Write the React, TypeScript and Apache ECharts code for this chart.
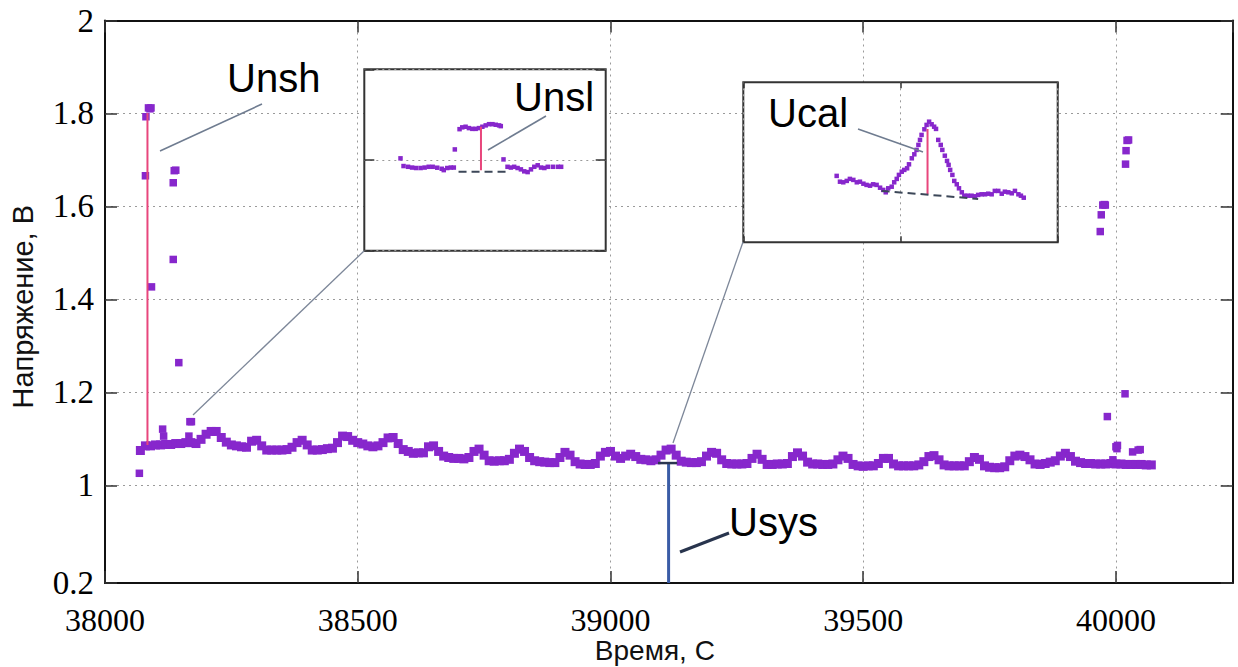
import React, { useEffect, useRef } from 'react';
import * as echarts from 'echarts';

// ---------- main axes ----------
const X_MIN = 38000;
const X_MAX = 40231;
const X_STEP = 500;
const Y_MIN = 0.79;
const Y_MAX = 2;
const Y_TICKS = [0.79, 1, 1.2, 1.4, 1.6, 1.8, 2];
const Y_TICK_LABELS = ['0.2', '1', '1.2', '1.4', '1.6', '1.8', '2'];

// ---------- main series: baseline sampled every 10 s ----------
const T_START = 38070;
const T_STEP = 10;
const baseVolts = [
  1.075, 1.085, 1.085, 1.087, 1.087, 1.088, 1.088, 1.090, 1.090, 1.092,
  1.092, 1.090, 1.099, 1.110, 1.116, 1.116, 1.103, 1.093, 1.087, 1.085,
  1.083, 1.082, 1.095, 1.097, 1.085, 1.076, 1.076, 1.076, 1.076, 1.077,
  1.082, 1.092, 1.097, 1.087, 1.076, 1.076, 1.077, 1.079, 1.080, 1.092,
  1.106, 1.105, 1.097, 1.092, 1.089, 1.085, 1.083, 1.085, 1.092, 1.102,
  1.103, 1.090, 1.077, 1.073, 1.069, 1.070, 1.070, 1.083, 1.085, 1.073,
  1.063, 1.060, 1.058, 1.058, 1.057, 1.060, 1.073, 1.078, 1.065, 1.053,
  1.052, 1.053, 1.053, 1.056, 1.069, 1.078, 1.073, 1.060, 1.053, 1.051,
  1.050, 1.049, 1.049, 1.060, 1.071, 1.065, 1.051, 1.046, 1.045, 1.045,
  1.047, 1.063, 1.071, 1.073, 1.063, 1.058, 1.063, 1.067, 1.062, 1.056,
  1.055, 1.053, 1.055, 1.065, 1.076, 1.078, 1.065, 1.052, 1.050, 1.049,
  1.049, 1.051, 1.063, 1.071, 1.069, 1.055, 1.047, 1.046, 1.046, 1.046,
  1.047, 1.058, 1.067, 1.056, 1.045, 1.045, 1.046, 1.046, 1.047, 1.062,
  1.070, 1.063, 1.050, 1.046, 1.046, 1.045, 1.045, 1.046, 1.055, 1.063,
  1.058, 1.045, 1.042, 1.041, 1.042, 1.042, 1.047, 1.058, 1.058, 1.046,
  1.042, 1.042, 1.042, 1.042, 1.044, 1.051, 1.062, 1.064, 1.055, 1.044,
  1.042, 1.042, 1.042, 1.042, 1.051, 1.060, 1.056, 1.042, 1.039, 1.038,
  1.038, 1.040, 1.053, 1.063, 1.065, 1.062, 1.055, 1.046, 1.045, 1.047,
  1.050, 1.053, 1.063, 1.069, 1.062, 1.052, 1.049, 1.047, 1.047, 1.046,
  1.046, 1.046, 1.047, 1.046, 1.046, 1.045, 1.045, 1.045, 1.045, 1.044,
  1.044,
];

// ---------- outliers (time, volts) ----------
const outlierTimes = [
  38068, 38081, 38086, 38089, 38091, 38080, 38092, 38114, 38116, 38135,
  38137, 38140, 38135, 38146, 38166, 38168, 38171,
  39969, 39971, 39974, 39977, 39979, 39983, 39994, 40000, 40003, 40002,
  40018, 40019, 40020, 40022, 40025, 40033, 40044, 40048,
];
const outlierVolts = [
  1.026, 1.793, 1.812, 1.810, 1.812, 1.666, 1.427, 1.121, 1.106, 1.651,
  1.677, 1.678, 1.486, 1.264, 1.106, 1.137, 1.137,
  1.546, 1.582, 1.603, 1.604, 1.603, 1.148, 1.055, 1.083, 1.086, 1.079,
  1.197, 1.691, 1.720, 1.742, 1.743, 1.072, 1.076, 1.077,
];

// ---------- annotation lines in main coordinates ----------
const unshLine = [[38084, 1.087], [38084, 1.801]];
const usysLine = [[39115, 1.048], [39115, 0.79]];
const usysCap = [[39094, 1.048], [39132, 1.048]];

// ---------- inset 1 (Unsl) ----------
const in1Times = [
  36, 39, 43.5, 47.5, 51.5, 56, 60, 64, 68, 72.5, 77, 79, 82.5, 86, 89,
  90,
  94.7, 97.4, 100.7, 104, 107.4, 110.7, 114, 117.4, 120.7, 124, 127.4, 130.7, 134, 135.7,
  138.4,
  142.4, 145.7, 149, 152.4, 155.7, 159, 162.4, 165.7, 169, 172.4, 175.7, 179, 182.4, 187.4, 192.4, 195.7,
];
const in1Volts = [
  1.1411, 1.136, 1.1355, 1.135, 1.1347, 1.1347, 1.135, 1.1355, 1.1355, 1.1349, 1.1342, 1.1333, 1.1347, 1.135, 1.135,
  1.147,
  1.1604, 1.1616, 1.162, 1.1611, 1.1606, 1.1606, 1.1611, 1.162, 1.1629, 1.1637, 1.1637, 1.1633, 1.1629, 1.1624,
  1.1404,
  1.1355, 1.135, 1.1355, 1.1347, 1.1338, 1.1325, 1.132, 1.1338, 1.1355, 1.1365, 1.135, 1.1347, 1.1355, 1.1355, 1.1355, 1.1355,
];
const in1Pink = [[116, 1.1333], [116, 1.162]];
const in1Dash = [[93.7, 1.1322], [144, 1.1322]];

// ---------- inset 2 (Ucal) ----------
const in2Times = [
  29.7, 30.75, 31.8, 32.9, 33.9, 35.0, 36.1, 37.1, 38.2, 39.2, 40.3, 41.3, 42.4, 43.5, 44.5,
  45.3, 46.1, 47.2, 48.0, 48.8, 49.5, 50.4, 51.2, 52.1, 52.7, 53.6, 54.4, 55.1, 55.7, 56.2,
  56.7, 57.6, 58.3, 59.1, 59.9, 60.7, 61.3, 62.0, 62.8, 63.3, 64.1, 64.8, 65.3, 65.8, 66.5,
  67.1, 67.9, 68.6, 69.5, 70.3, 71.4, 72.6, 73.7, 74.7, 75.8, 76.9, 77.9, 79.0, 80.0, 81.1,
  82.2, 83.2, 84.3, 85.4, 86.4, 87.5, 88.3, 89.2,
];
const in2Volts = [
  1.0732, 1.0703, 1.07, 1.0707, 1.0717, 1.0712, 1.07, 1.0703, 1.0693, 1.0687, 1.0683, 1.069, 1.0687, 1.0673, 1.0662,
  1.065, 1.067, 1.0678, 1.07, 1.0717, 1.0737, 1.0753, 1.0762, 1.077, 1.079, 1.082, 1.084, 1.0862, 1.0887, 1.0912,
  1.0937, 1.0965, 1.0987, 1.1003, 1.099, 1.0978, 1.0967, 1.0912, 1.0887, 1.0862, 1.0833, 1.0807, 1.0787, 1.0762, 1.0737,
  1.0707, 1.069, 1.067, 1.065, 1.0633, 1.0633, 1.0633, 1.063, 1.0637, 1.064, 1.064, 1.0643, 1.064, 1.0657, 1.0657,
  1.0643, 1.0653, 1.065, 1.0645, 1.0657, 1.064, 1.0633, 1.0623,
];
const in2Pink = [[58.6, 1.0967], [58.6, 1.064]];
const in2Dash = [[44.0, 1.0657], [74.7, 1.0617]];

// ---------- labels ----------
const X_TITLE = 'Время, С';
const Y_TITLE = 'Напряжение, В';
const ANNOTATIONS = [
  { text: 'Unsh', x: 227, y: 78 },
  { text: 'Unsl', x: 514, y: 97 },
  { text: 'Ucal', x: 768, y: 113 },
  { text: 'Usys', x: 729, y: 522 },
];
const LEADERS = [
  { x1: 262, y1: 104, x2: 160, y2: 151, color: '#6f7c90', w: 1.6 },
  { x1: 546, y1: 116, x2: 488, y2: 150, color: '#6f7c90', w: 1.6 },
  { x1: 858, y1: 129, x2: 923, y2: 152, color: '#6f7c90', w: 1.6 },
  { x1: 364, y1: 251, x2: 193, y2: 415, color: '#7d8799', w: 1.3 },
  { x1: 743, y1: 242, x2: 673, y2: 443, color: '#7d8799', w: 1.3 },
  { x1: 680, y1: 552, x2: 729, y2: 533, color: '#28344d', w: 3 },
];

const PURPLE = '#8727cc';
const PINK = '#e8467c';
const DOT = { type: [2, 4] as number[], color: '#9a9a9a', width: 1 };

function buildOption() {
  const baseData = baseVolts.map((v, i) => [T_START + i * T_STEP, v]);
  const outData = outlierTimes.map((t, i) => [t, outlierVolts[i]]);
  const in1Data = in1Times.map((t, i) => [t, in1Volts[i]]);
  const in2Data = in2Times.map((t, i) => [t, in2Volts[i]]);
  const yLabel = (v: number) => {
    let best = 0;
    Y_TICKS.forEach((t, i) => { if (Math.abs(t - v) < Math.abs(Y_TICKS[best] - v)) best = i; });
    return Y_TICK_LABELS[best];
  };
  const serif = { fontFamily: 'Liberation Serif', fontSize: 32, color: '#000', lineHeight: 30 };
  const yTickFont = { fontFamily: 'Liberation Serif', fontSize: 33, color: '#000' };
  const titleFont = { fontFamily: 'Liberation Sans', fontSize: 28, color: '#111', lineHeight: 26 };

  return {
    animation: false,
    backgroundColor: '#fff',
    grid: [
      { left: 105, top: 20.5, width: 1127.7, height: 562.5, show: false, outerBoundsMode: 'none', containLabel: false },
      { left: 364.3, top: 69.3, width: 241.4, height: 181.4, show: true, backgroundColor: '#fff', borderColor: '#333', borderWidth: 2, z: 5, outerBoundsMode: 'none', containLabel: false },
      { left: 743.3, top: 82.3, width: 314.4, height: 160, show: true, backgroundColor: '#fff', borderColor: '#333', borderWidth: 2, z: 5, outerBoundsMode: 'none', containLabel: false },
    ],
    xAxis: [
      {
        gridIndex: 0, type: 'value', min: X_MIN, max: X_MAX, interval: X_STEP, position: 'bottom',
        axisLine: { show: true, onZero: false, lineStyle: { color: '#111', width: 2 } },
        axisTick: { inside: true, length: 12, lineStyle: { color: '#333', width: 1.5 } },
        axisLabel: {
          ...serif, margin: 22, showMaxLabel: false,
          formatter: (v: number) => '{s|' + String(Math.round(v)) + '}',
          rich: { s: { ...serif } },
        },
        splitLine: { show: true, lineStyle: DOT },
        name: X_TITLE, nameLocation: 'middle', nameGap: 54, nameMoveOverlap: false,
        nameTextStyle: { ...titleFont, padding: [0, 28, 0, 0] },
      },
      {
        gridIndex: 0, type: 'value', min: X_MIN, max: X_MAX, interval: X_STEP, position: 'top',
        axisLine: { show: true, onZero: false, lineStyle: { color: '#111', width: 2 } },
        axisTick: { inside: true, length: 12, lineStyle: { color: '#333', width: 1.5 } },
        axisLabel: { show: false }, splitLine: { show: false },
      },
      {
        gridIndex: 1, type: 'value', min: 0, max: 240, show: false, z: 6,
      },
      {
        gridIndex: 2, type: 'value', min: 0, max: 100, interval: 50, position: 'bottom', z: 6,
        axisLine: { show: false, onZero: false }, axisLabel: { show: false },
        axisTick: { inside: true, length: 6, lineStyle: { color: '#333', width: 1.5 } },
        splitLine: { show: true, lineStyle: DOT },
      },
      {
        gridIndex: 2, type: 'value', min: 0, max: 100, interval: 50, position: 'top', z: 6,
        axisLine: { show: false, onZero: false }, axisLabel: { show: false },
        axisTick: { inside: true, length: 6, lineStyle: { color: '#333', width: 1.5 } },
        splitLine: { show: false },
      },
    ],
    yAxis: [
      {
        gridIndex: 0, type: 'value', min: Y_MIN, max: Y_MAX, position: 'left',
        axisLine: { show: true, onZero: false, lineStyle: { color: '#111', width: 2 } },
        axisTick: { inside: true, length: 12, customValues: Y_TICKS, lineStyle: { color: '#333', width: 1.5 } },
        axisLabel: { ...yTickFont, margin: 11, customValues: Y_TICKS, formatter: yLabel },
        splitLine: { show: true, lineStyle: DOT },
        name: Y_TITLE, nameLocation: 'middle', nameGap: 68, nameRotate: 90, nameMoveOverlap: false,
        nameTextStyle: { ...titleFont, fontSize: 29, lineHeight: 29, padding: [0, 10, 0, 0] },
      },
      {
        gridIndex: 0, type: 'value', min: Y_MIN, max: Y_MAX, position: 'right',
        axisLine: { show: true, onZero: false, lineStyle: { color: '#111', width: 2 } },
        axisTick: { inside: true, length: 12, customValues: Y_TICKS, lineStyle: { color: '#333', width: 1.5 } },
        axisLabel: { show: false }, splitLine: { show: false },
      },
      {
        gridIndex: 1, type: 'value', min: 1.08, max: 1.2, interval: 0.06, position: 'left', z: 6,
        axisLine: { show: false, onZero: false }, axisLabel: { show: false },
        axisTick: { inside: true, length: 10, lineStyle: { color: '#333', width: 1.5 } },
        splitLine: { show: true, lineStyle: DOT },
      },
      {
        gridIndex: 1, type: 'value', min: 1.08, max: 1.2, interval: 0.06, position: 'right', z: 6,
        axisLine: { show: false, onZero: false }, axisLabel: { show: false },
        axisTick: { inside: true, length: 10, lineStyle: { color: '#333', width: 1.5 } },
        splitLine: { show: false },
      },
      {
        gridIndex: 2, type: 'value', min: 1.04, max: 1.12, show: false, z: 6,
      },
    ],
    series: [
      { type: 'scatter', xAxisIndex: 0, yAxisIndex: 0, data: baseData, symbol: 'rect', symbolSize: 9, itemStyle: { color: PURPLE, opacity: 1 }, z: 3 },
      { type: 'scatter', xAxisIndex: 0, yAxisIndex: 0, data: outData, symbol: 'rect', symbolSize: 7.5, itemStyle: { color: PURPLE, opacity: 1 }, z: 3 },
      { type: 'line', xAxisIndex: 0, yAxisIndex: 0, data: unshLine, symbol: 'none', lineStyle: { color: PINK, width: 2 }, z: 4 },
      { type: 'line', xAxisIndex: 0, yAxisIndex: 0, data: usysLine, symbol: 'none', lineStyle: { color: '#3a5ca6', width: 3 }, z: 4 },
      { type: 'line', xAxisIndex: 0, yAxisIndex: 0, data: usysCap, symbol: 'none', lineStyle: { color: '#2a3650', width: 2.5 }, z: 4 },
      { type: 'scatter', xAxisIndex: 2, yAxisIndex: 2, data: in1Data, symbol: 'rect', symbolSize: 4.5, itemStyle: { color: PURPLE, opacity: 1 }, z: 7 },
      { type: 'line', xAxisIndex: 2, yAxisIndex: 2, data: in1Pink, symbol: 'none', lineStyle: { color: PINK, width: 2 }, z: 8 },
      { type: 'line', xAxisIndex: 2, yAxisIndex: 2, data: in1Dash, symbol: 'none', lineStyle: { color: '#3c4758', width: 2, type: [8, 5] }, z: 8 },
      { type: 'scatter', xAxisIndex: 3, yAxisIndex: 4, data: in2Data, symbol: 'rect', symbolSize: 4.5, itemStyle: { color: PURPLE, opacity: 1 }, z: 7 },
      { type: 'line', xAxisIndex: 3, yAxisIndex: 4, data: in2Pink, symbol: 'none', lineStyle: { color: PINK, width: 2 }, z: 8 },
      { type: 'line', xAxisIndex: 3, yAxisIndex: 4, data: in2Dash, symbol: 'none', lineStyle: { color: '#3c4758', width: 2, type: [8, 5] }, z: 8 },
    ],
    graphic: [
      ...LEADERS.map((l) => ({
        type: 'line', z: 20, silent: true,
        shape: { x1: l.x1, y1: l.y1, x2: l.x2, y2: l.y2 },
        style: { stroke: l.color, lineWidth: l.w },
      })),
      ...ANNOTATIONS.map((a) => ({
        type: 'text', z: 20, silent: true, x: a.x, y: a.y,
        style: { text: a.text, fontFamily: 'Liberation Sans', fontSize: 40, fill: '#000', verticalAlign: 'middle', align: 'left' },
      })),
    ],
  };
}

export default function App() {
  const ref = useRef<HTMLDivElement>(null);
  useEffect(() => {
    if (!ref.current) return;
    const chart = echarts.init(ref.current, null, { renderer: 'svg' });
    chart.setOption(buildOption() as any);
    return () => chart.dispose();
  }, []);
  return (
    <div
      ref={ref}
      style={{ position: 'fixed', left: 0, top: 0, width: 1238, height: 667, background: '#fff' }}
    />
  );
}
